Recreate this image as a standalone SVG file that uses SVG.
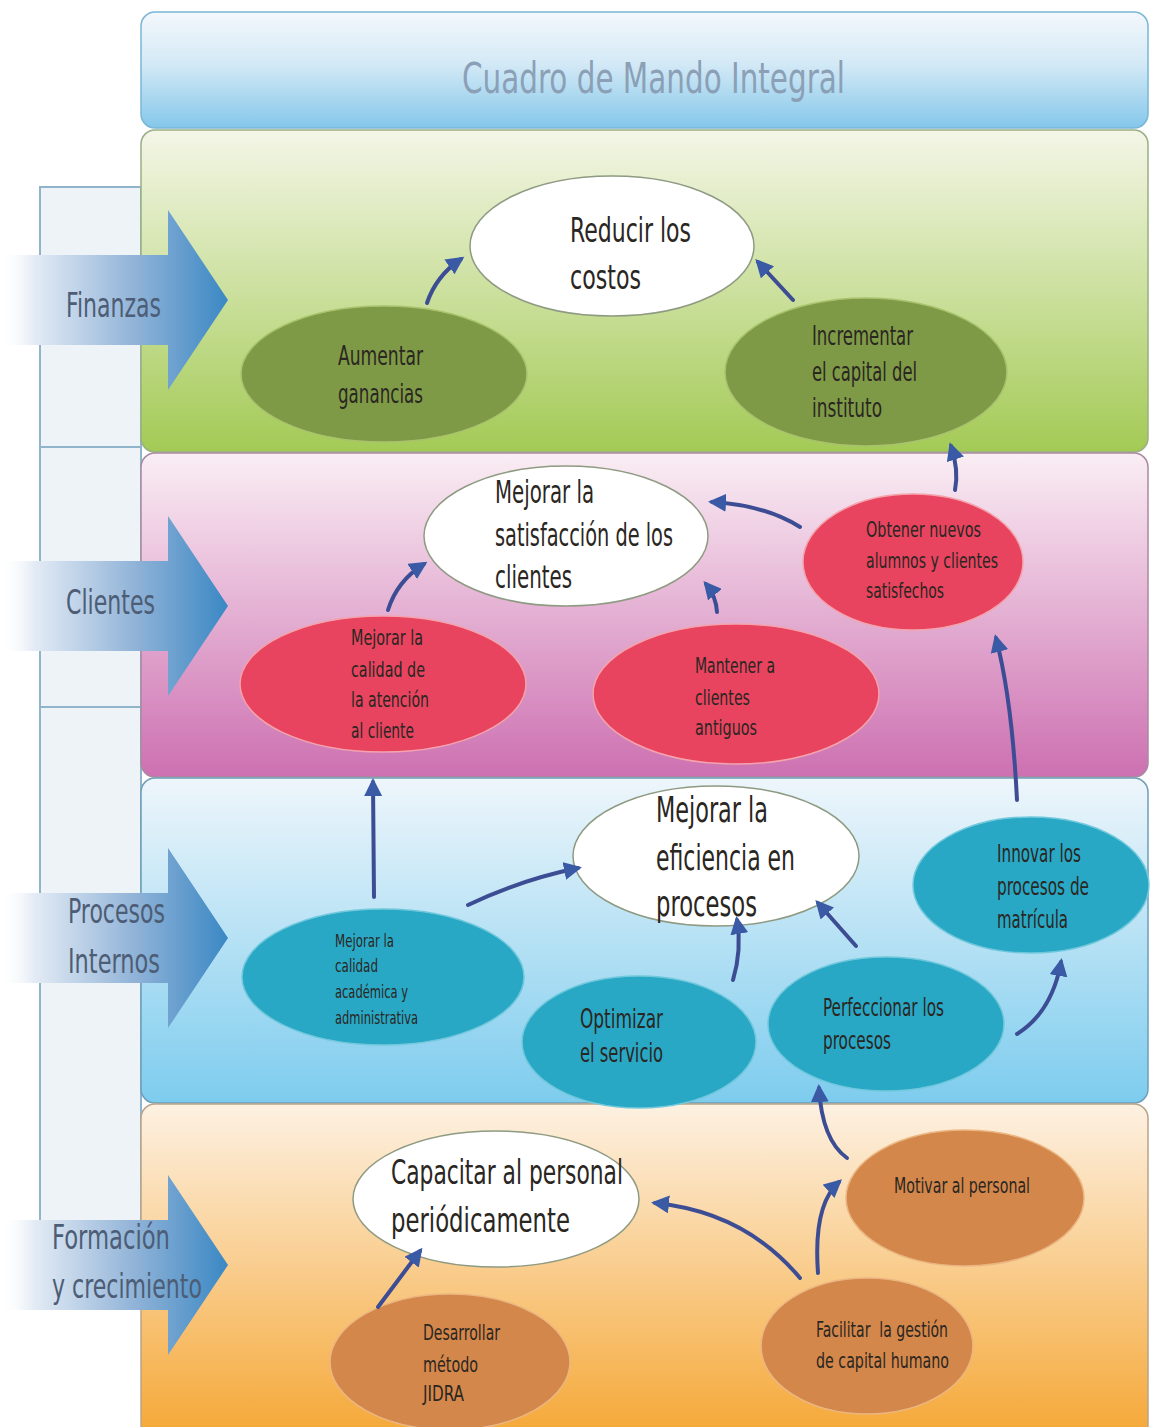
<svg xmlns="http://www.w3.org/2000/svg" width="1150" height="1427" viewBox="0 0 1150 1427">
<style>
text{font-family:"Liberation Sans Narrow","DejaVu Sans Condensed","Open Sans","Liberation Sans",sans-serif;font-stretch:condensed;fill:#2a2622}
.lbl{fill:#4c5d75;font-size:33px}
.title{fill:#8ba0b6;font-size:42px}
.conn{fill:none;stroke:#3d4d94;stroke-width:4;stroke-linecap:round;marker-end:url(#ah)}
.white{fill:#ffffff;stroke:#8e9a82;stroke-width:1.5}
.olive{fill:#7f9a46;stroke:#a9c26e;stroke-width:1.5}
.red{fill:#e8445f;stroke:#f4a3ad;stroke-width:1.5}
.teal{fill:#29a8c6;stroke:#71c8dc;stroke-width:1.5}
.orng{fill:#d4874a;stroke:#ebb682;stroke-width:1.5}
.panel{stroke-width:1.5}
</style>
<defs>
<marker id="ah" markerUnits="userSpaceOnUse" markerWidth="20" markerHeight="18" refX="14" refY="9" orient="auto">
<path d="M0,0 L18,9 L0,18 Z" fill="#3b5aa6"/>
</marker>
<linearGradient id="gHead" x1="0" y1="0" x2="0" y2="1"><stop offset="0" stop-color="#f4f8fc"/><stop offset="0.45" stop-color="#d3e9f6"/><stop offset="1" stop-color="#84c7ea"/></linearGradient>
<linearGradient id="gGreen" x1="0" y1="0" x2="0" y2="1"><stop offset="0" stop-color="#f4f6e7"/><stop offset="1" stop-color="#a3ca55"/></linearGradient>
<linearGradient id="gPink" x1="0" y1="0" x2="0" y2="1"><stop offset="0" stop-color="#faeef4"/><stop offset="1" stop-color="#cd70b1"/></linearGradient>
<linearGradient id="gBlue" x1="0" y1="0" x2="0" y2="1"><stop offset="0" stop-color="#eef6fb"/><stop offset="1" stop-color="#7dccee"/></linearGradient>
<linearGradient id="gOrange" x1="0" y1="0" x2="0" y2="1"><stop offset="0" stop-color="#fdf1e2"/><stop offset="1" stop-color="#f5a735"/></linearGradient>
<linearGradient id="gArrow" gradientUnits="userSpaceOnUse" x1="0" y1="0" x2="228" y2="0"><stop offset="0" stop-color="#ffffff" stop-opacity="0"/><stop offset="0.15" stop-color="#e3ebf5"/><stop offset="0.6" stop-color="#8fb2d7"/><stop offset="1" stop-color="#3a88c4"/></linearGradient>
</defs>

<g id="bracket">
<rect x="40" y="187" width="101" height="1070" fill="#eef3f8" stroke="#8fb4cc" stroke-width="2"/>
<line x1="40" y1="447" x2="141" y2="447" stroke="#8fb4cc" stroke-width="2"/>
<line x1="40" y1="707" x2="141" y2="707" stroke="#8fb4cc" stroke-width="2"/>
</g>

<g id="panels">
<rect id="panel-header" class="panel" x="141" y="12" width="1007" height="116" rx="14" fill="url(#gHead)" stroke="#7ab6d6"/>
<rect id="panel-finanzas" class="panel" x="141" y="130" width="1007" height="322" rx="14" fill="url(#gGreen)" stroke="#9aae84"/>
<rect id="panel-clientes" class="panel" x="141" y="453" width="1007" height="324" rx="14" fill="url(#gPink)" stroke="#a88aa0"/>
<rect id="panel-procesos" class="panel" x="141" y="778" width="1007" height="325" rx="14" fill="url(#gBlue)" stroke="#6f9fb8"/>
<rect id="panel-formacion" class="panel" x="141" y="1104" width="1007" height="335" rx="14" fill="url(#gOrange)" stroke="#b8a48a"/>
<text class="title" x="462" y="93" textLength="383" lengthAdjust="spacingAndGlyphs">Cuadro de Mando Integral</text>
</g>

<g id="side-arrows">
<g id="arrow-finanzas">
<path d="M0,255 L168,255 L168,210 L228,300 L168,390 L168,345 L0,345 Z" fill="url(#gArrow)"/>
<text class="lbl" x="66" y="317" textLength="95" lengthAdjust="spacingAndGlyphs">Finanzas</text>
</g>
<g id="arrow-clientes">
<path d="M0,561 L168,561 L168,516 L228,606 L168,696 L168,651 L0,651 Z" fill="url(#gArrow)"/>
<text class="lbl" x="66" y="614" textLength="89" lengthAdjust="spacingAndGlyphs">Clientes</text>
</g>
<g id="arrow-procesos">
<path d="M0,893 L168,893 L168,848 L228,938 L168,1028 L168,983 L0,983 Z" fill="url(#gArrow)"/>
<text class="lbl" x="68" y="923" textLength="97" lengthAdjust="spacingAndGlyphs">Procesos</text>
<text class="lbl" x="68" y="973" textLength="92" lengthAdjust="spacingAndGlyphs">Internos</text>
</g>
<g id="arrow-formacion">
<path d="M0,1220 L168,1220 L168,1175 L228,1265 L168,1355 L168,1310 L0,1310 Z" fill="url(#gArrow)"/>
<text class="lbl" x="52" y="1249" textLength="118" lengthAdjust="spacingAndGlyphs">Formación</text>
<text class="lbl" x="52" y="1298" textLength="150" lengthAdjust="spacingAndGlyphs">y crecimiento</text>
</g>
</g>

<g id="nodes">
<g id="n-reducir">
<ellipse class="white" cx="612" cy="246" rx="142" ry="70"/>
<text x="570" y="242" font-size="34" textLength="121" lengthAdjust="spacingAndGlyphs">Reducir los</text>
<text x="570" y="289" font-size="34" textLength="71" lengthAdjust="spacingAndGlyphs">costos</text>
</g>
<g id="n-aumentar">
<ellipse class="olive" cx="384" cy="374" rx="143" ry="68"/>
<text x="338" y="365" font-size="26" textLength="85" lengthAdjust="spacingAndGlyphs">Aumentar</text>
<text x="338" y="403" font-size="26" textLength="85" lengthAdjust="spacingAndGlyphs">ganancias</text>
</g>
<g id="n-incrementar">
<ellipse class="olive" cx="866" cy="372" rx="141" ry="74"/>
<text x="812" y="345" font-size="26" textLength="101" lengthAdjust="spacingAndGlyphs">Incrementar</text>
<text x="812" y="381" font-size="26" textLength="105" lengthAdjust="spacingAndGlyphs">el capital del</text>
<text x="812" y="417" font-size="26" textLength="70" lengthAdjust="spacingAndGlyphs">instituto</text>
</g>
<g id="n-satisfaccion">
<ellipse class="white" cx="566" cy="536" rx="142" ry="70"/>
<text x="495" y="503" font-size="32" textLength="99" lengthAdjust="spacingAndGlyphs">Mejorar la</text>
<text x="495" y="546" font-size="32" textLength="178" lengthAdjust="spacingAndGlyphs">satisfacción de los</text>
<text x="495" y="588" font-size="32" textLength="77" lengthAdjust="spacingAndGlyphs">clientes</text>
</g>
<g id="n-atencion">
<ellipse class="red" cx="383" cy="684" rx="143" ry="68"/>
<text x="351" y="645" font-size="22" textLength="72" lengthAdjust="spacingAndGlyphs">Mejorar la</text>
<text x="351" y="677" font-size="22" textLength="74" lengthAdjust="spacingAndGlyphs">calidad de</text>
<text x="351" y="707" font-size="22" textLength="78" lengthAdjust="spacingAndGlyphs">la atención</text>
<text x="351" y="738" font-size="22" textLength="63" lengthAdjust="spacingAndGlyphs">al cliente</text>
</g>
<g id="n-mantener">
<ellipse class="red" cx="736" cy="694" rx="143" ry="70"/>
<text x="695" y="673" font-size="22" textLength="80" lengthAdjust="spacingAndGlyphs">Mantener a</text>
<text x="695" y="705" font-size="22" textLength="55" lengthAdjust="spacingAndGlyphs">clientes</text>
<text x="695" y="735" font-size="22" textLength="62" lengthAdjust="spacingAndGlyphs">antiguos</text>
</g>
<g id="n-obtener">
<ellipse class="red" cx="913" cy="562" rx="110" ry="68"/>
<text x="866" y="537" font-size="21" textLength="115" lengthAdjust="spacingAndGlyphs">Obtener nuevos</text>
<text x="866" y="568" font-size="21" textLength="132" lengthAdjust="spacingAndGlyphs">alumnos y clientes</text>
<text x="866" y="598" font-size="21" textLength="78" lengthAdjust="spacingAndGlyphs">satisfechos</text>
</g>
<g id="n-eficiencia">
<ellipse class="white" cx="716" cy="856" rx="143" ry="70"/>
<text x="656" y="822" font-size="36" textLength="112" lengthAdjust="spacingAndGlyphs">Mejorar la</text>
<text x="656" y="870" font-size="36" textLength="139" lengthAdjust="spacingAndGlyphs">eficiencia en</text>
<text x="656" y="916" font-size="36" textLength="101" lengthAdjust="spacingAndGlyphs">procesos</text>
</g>
<g id="n-academica">
<ellipse class="teal" cx="383" cy="977" rx="141" ry="68"/>
<text x="335" y="947" font-size="17" textLength="59" lengthAdjust="spacingAndGlyphs">Mejorar la</text>
<text x="335" y="972" font-size="17" textLength="43" lengthAdjust="spacingAndGlyphs">calidad</text>
<text x="335" y="998" font-size="17" textLength="73" lengthAdjust="spacingAndGlyphs">académica y</text>
<text x="335" y="1024" font-size="17" textLength="83" lengthAdjust="spacingAndGlyphs">administrativa</text>
</g>
<g id="n-optimizar">
<ellipse class="teal" cx="639" cy="1042" rx="117" ry="66"/>
<text x="580" y="1028" font-size="26" textLength="83" lengthAdjust="spacingAndGlyphs">Optimizar</text>
<text x="580" y="1062" font-size="26" textLength="83" lengthAdjust="spacingAndGlyphs">el servicio</text>
</g>
<g id="n-perfeccionar">
<ellipse class="teal" cx="886" cy="1024" rx="118" ry="67"/>
<text x="823" y="1016" font-size="24" textLength="121" lengthAdjust="spacingAndGlyphs">Perfeccionar los</text>
<text x="823" y="1049" font-size="24" textLength="68" lengthAdjust="spacingAndGlyphs">procesos</text>
</g>
<g id="n-innovar">
<ellipse class="teal" cx="1031" cy="885" rx="118" ry="68"/>
<text x="997" y="862" font-size="24" textLength="84" lengthAdjust="spacingAndGlyphs">Innovar los</text>
<text x="997" y="895" font-size="24" textLength="92" lengthAdjust="spacingAndGlyphs">procesos de</text>
<text x="997" y="928" font-size="24" textLength="71" lengthAdjust="spacingAndGlyphs">matrícula</text>
</g>
<g id="n-capacitar">
<ellipse class="white" cx="496" cy="1199" rx="143" ry="68"/>
<text x="391" y="1184" font-size="34" textLength="232" lengthAdjust="spacingAndGlyphs">Capacitar al personal</text>
<text x="391" y="1232" font-size="34" textLength="179" lengthAdjust="spacingAndGlyphs">periódicamente</text>
</g>
<g id="n-motivar">
<ellipse class="orng" cx="965" cy="1198" rx="119" ry="68"/>
<text x="894" y="1193" font-size="22" textLength="136" lengthAdjust="spacingAndGlyphs">Motivar al personal</text>
</g>
<g id="n-facilitar">
<ellipse class="orng" cx="867" cy="1346" rx="106" ry="68"/>
<text x="816" y="1337" font-size="22" textLength="132" lengthAdjust="spacingAndGlyphs" xml:space="preserve">Facilitar  la gestión</text>
<text x="816" y="1368" font-size="22" textLength="133" lengthAdjust="spacingAndGlyphs">de capital humano</text>
</g>
<g id="n-desarrollar">
<ellipse class="orng" cx="450" cy="1362" rx="120" ry="68"/>
<text x="423" y="1340" font-size="22" textLength="77" lengthAdjust="spacingAndGlyphs">Desarrollar</text>
<text x="423" y="1372" font-size="22" textLength="55" lengthAdjust="spacingAndGlyphs">método</text>
<text x="423" y="1401" font-size="22" textLength="41" lengthAdjust="spacingAndGlyphs">JIDRA</text>
</g>
</g>

<g id="connectors">
<path class="conn" d="M427,303 Q436,276 461,259"/>
<path class="conn" d="M793,300 L758,262"/>
<path class="conn" d="M388,610 Q397,581 424,564"/>
<path class="conn" d="M717,612 Q716,596 706,584"/>
<path class="conn" d="M800,527 Q765,505 712,502"/>
<path class="conn" d="M955,490 Q959,470 951,446"/>
<path class="conn" d="M1017,800 Q1012,700 996,638"/>
<path class="conn" d="M374,897 L373,782"/>
<path class="conn" d="M468,905 Q520,880 578,868"/>
<path class="conn" d="M733,980 Q742,950 737,920"/>
<path class="conn" d="M856,946 L818,903"/>
<path class="conn" d="M1017,1034 Q1052,1012 1061,962"/>
<path class="conn" d="M847,1158 Q822,1140 819,1088"/>
<path class="conn" d="M378,1307 L420,1251"/>
<path class="conn" d="M800,1278 Q745,1212 655,1203"/>
<path class="conn" d="M818,1273 Q813,1205 839,1182"/>
</g>
</svg>
